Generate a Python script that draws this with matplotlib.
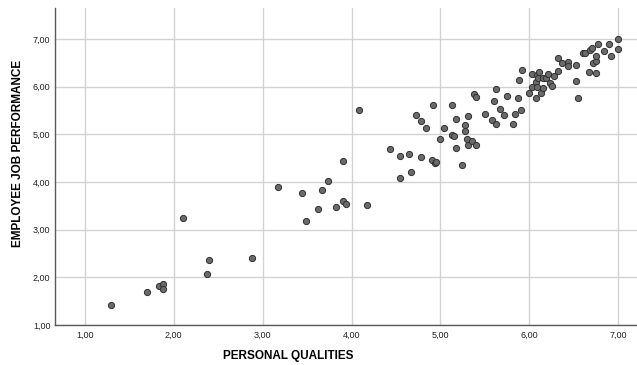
import matplotlib
matplotlib.use("Agg")
import matplotlib.pyplot as plt
from matplotlib import font_manager
from matplotlib.ticker import FuncFormatter

# Valores (PERSONAL QUALITIES x EMPLOYEE JOB PERFORMANCE)
personal_qualities = [
    1.30, 1.70, 1.83, 1.88, 1.88, 2.10, 2.37, 2.40, 2.885, 3.17,
    3.44, 3.49, 3.62, 3.67, 3.74, 3.82, 3.90, 3.90, 3.94, 4.08,
    4.17, 4.43, 4.54, 4.54, 4.65, 4.67, 4.73, 4.78, 4.78, 4.84,
    4.90, 4.92, 4.94, 4.95, 5.00, 5.04, 5.13, 5.13, 5.15, 5.17,
    5.18, 5.24, 5.28, 5.28, 5.30, 5.31, 5.31, 5.35, 5.38, 5.40,
    5.40, 5.50, 5.58, 5.60, 5.63, 5.63, 5.67, 5.72, 5.75, 5.82,
    5.84, 5.87, 5.88, 5.90, 5.92, 6.00, 6.03, 6.03, 6.07, 6.07,
    6.08, 6.08, 6.10, 6.11, 6.13, 6.15, 6.15, 6.19, 6.21, 6.23,
    6.25, 6.28, 6.32, 6.32, 6.37, 6.43, 6.43, 6.52, 6.52, 6.55,
    6.60, 6.63, 6.67, 6.68, 6.70, 6.72, 6.75, 6.75, 6.75, 6.77,
    6.84, 6.90, 6.92, 7.00, 7.00,
]
job_performance = [
    1.43, 1.69, 1.82, 1.85, 1.75, 3.25, 2.08, 2.37, 2.41, 3.89,
    3.76, 3.19, 3.44, 3.83, 4.03, 3.47, 4.43, 3.61, 3.53, 5.52,
    3.52, 4.70, 4.54, 4.08, 4.59, 4.22, 5.40, 5.28, 4.52, 5.13,
    4.46, 5.62, 4.39, 4.42, 4.91, 5.14, 4.99, 5.61, 4.96, 4.72,
    5.33, 4.35, 5.19, 5.07, 4.90, 5.39, 4.77, 4.85, 5.84, 5.79,
    4.77, 5.42, 5.30, 5.70, 5.96, 5.21, 5.54, 5.41, 5.80, 5.22,
    5.42, 5.77, 6.13, 5.51, 6.34, 5.87, 6.00, 6.26, 5.77, 6.09,
    6.25, 6.00, 6.19, 6.31, 5.87, 6.18, 5.98, 6.18, 6.26, 6.07,
    6.02, 6.23, 6.60, 6.32, 6.50, 6.51, 6.43, 6.46, 6.12, 5.77,
    6.70, 6.70, 6.30, 6.76, 6.82, 6.50, 6.54, 6.64, 6.29, 6.90,
    6.74, 6.90, 6.64, 7.00, 6.80,
]

x_ticks = [1, 2, 3, 4, 5, 6, 7]
y_ticks = [1, 2, 3, 4, 5, 6, 7]

plt.rcParams["font.family"] = ["Liberation Sans", "DejaVu Sans"]

# Fonte estreita para os títulos dos eixos, se existir
nomes = {f.name for f in font_manager.fontManager.ttflist}
fonte_titulo = "Liberation Sans Narrow" if "Liberation Sans Narrow" in nomes else "Liberation Sans"
tam_titulo = 10 if fonte_titulo == "Liberation Sans Narrow" else 8.5

W, H = 637, 365
fig = plt.figure(figsize=(W / 100, H / 100), dpi=100)
ax = fig.add_axes([54.5 / W, 1 - 325 / H, 1 - 54.5 / W, (325 - 8) / H])

# Pontos no estilo SPSS: cinza com borda escura
ax.scatter(personal_qualities, job_performance, s=20, c="#6a6a6a",
           edgecolors="#303030", linewidths=0.7, zorder=3)

ax.set_xlim(0.66, 7.21)
ax.set_ylim(1.0, 7.65)
ax.set_xticks(x_ticks)
ax.set_yticks(y_ticks)

# Vírgula como separador decimal
fmt = FuncFormatter(lambda v, _: f"{v:.2f}".replace(".", ","))
ax.xaxis.set_major_formatter(fmt)
ax.yaxis.set_major_formatter(fmt)
ax.tick_params(length=0, labelsize=6.5, colors="#222222")
ax.tick_params(axis="x", pad=4)
ax.tick_params(axis="y", pad=3)

ax.grid(True, color="#d2d2d2", linewidth=1.0, zorder=0)
ax.set_axisbelow(True)

for side in ["top", "right"]:
    ax.spines[side].set_visible(False)
for side in ["left", "bottom"]:
    ax.spines[side].set_color("#5a5a5a")
    ax.spines[side].set_linewidth(1.0)

# Títulos dos eixos nas posições medidas na referência (em pixels)
fig.text(288.5 / W, 1 - 356 / H, "PERSONAL QUALITIES", family=fonte_titulo,
         fontsize=tam_titulo, fontweight="bold", ha="center", va="center")
fig.text(18 / W, 1 - 153 / H, "EMPLOYEE JOB PERFORMANCE", family=fonte_titulo,
         fontsize=tam_titulo, fontweight="bold", ha="center", va="center",
         rotation=90)

fig.savefig("out.png", dpi=100)
